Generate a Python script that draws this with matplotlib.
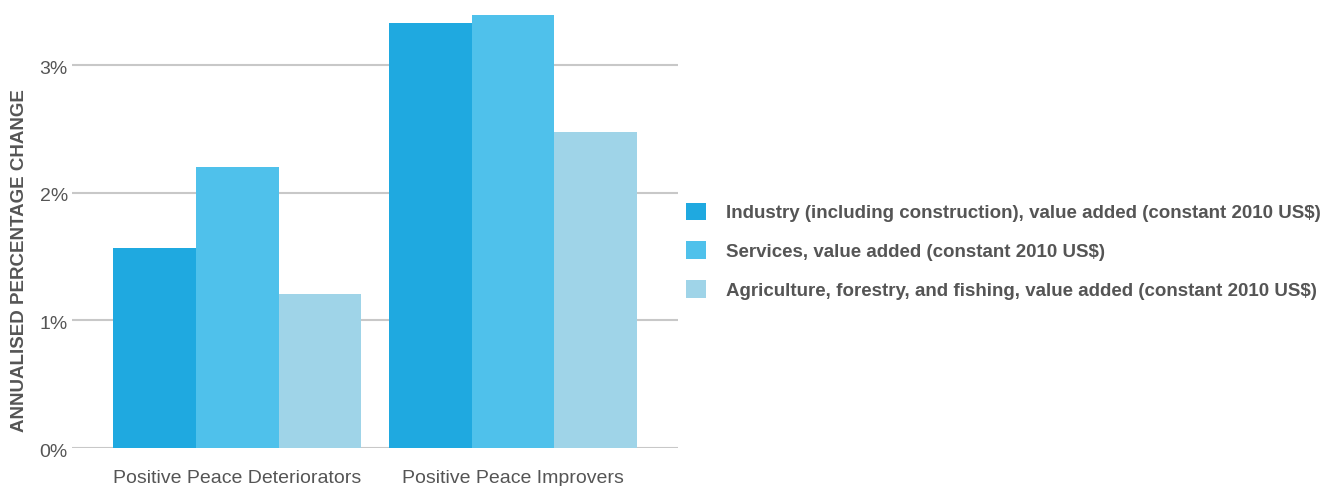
"""Annualised percentage change in value added by sector, Positive Peace groups."""

import matplotlib.pyplot as plt
import numpy as np
from matplotlib.ticker import FuncFormatter
from matplotlib.transforms import offset_copy

plt.rcParams["font.family"] = ["Liberation Sans", "DejaVu Sans"]

groups = ["Positive Peace Deteriorators", "Positive Peace Improvers"]
series_names = [
    "Industry (including construction), value added (constant 2010 US$)",
    "Services, value added (constant 2010 US$)",
    "Agriculture, forestry, and fishing, value added (constant 2010 US$)",
]
industry = [1.57, 3.33]
services = [2.20, 3.39]
agriculture = [1.21, 2.475]
colors = ["#1fa9e0", "#4fc1eb", "#9fd4e8"]

TEXT = "#555555"
GRID = "#c8c8c8"


def main() -> None:
    fig = plt.figure(figsize=(13.33, 4.86), dpi=100)
    ax = fig.add_axes([0.054, 0.078, 0.455, 0.893])

    x = np.arange(len(groups))
    width = 0.3
    handles = []
    for i, (vals, name, col) in enumerate(zip([industry, services, agriculture], series_names, colors)):
        h = ax.bar(x + (i - 1) * width, vals, width, color=col, label=name, zorder=2)
        handles.append(h)

    ax.set_xlim(-0.6, 1.6)
    ax.set_ylim(0, 3.4)
    ax.set_yticks([0, 1, 2, 3])
    ax.yaxis.set_major_formatter(FuncFormatter(lambda v, _: f"{v:.0f}%"))
    ax.set_xticks(x)
    ax.set_xticklabels(groups)
    ax.grid(axis="y", color=GRID, linewidth=1.5, zorder=0)
    ax.set_axisbelow(True)
    for s in ax.spines.values():
        s.set_visible(False)
    ax.tick_params(axis="both", length=0, labelsize=14, colors=TEXT)
    ax.tick_params(axis="y", pad=3)
    ax.tick_params(axis="x", pad=16)
    fig.canvas.draw()
    for lbl in ax.get_yticklabels():
        lbl.set_va("center")
        lbl.set_transform(offset_copy(lbl.get_transform(), fig=fig, x=0, y=-4, units="dots"))

    ax.set_ylabel("ANNUALISED PERCENTAGE CHANGE", fontsize=13.5, fontweight="bold", color=TEXT)
    ax.yaxis.set_label_coords(-0.073, 0.433)

    fig.legend(
        handles=handles,
        labels=series_names,
        loc="center left",
        bbox_to_anchor=(0.502, 0.4835),
        frameon=False,
        handlelength=1.07,
        handleheight=1.07,
        handletextpad=1.07,
        labelspacing=1.05,
        prop={"weight": "bold", "size": 13.5},
        labelcolor=TEXT,
    )

    fig.savefig("out.png", dpi=100, facecolor="white")
    plt.close(fig)


if __name__ == "__main__":
    main()
